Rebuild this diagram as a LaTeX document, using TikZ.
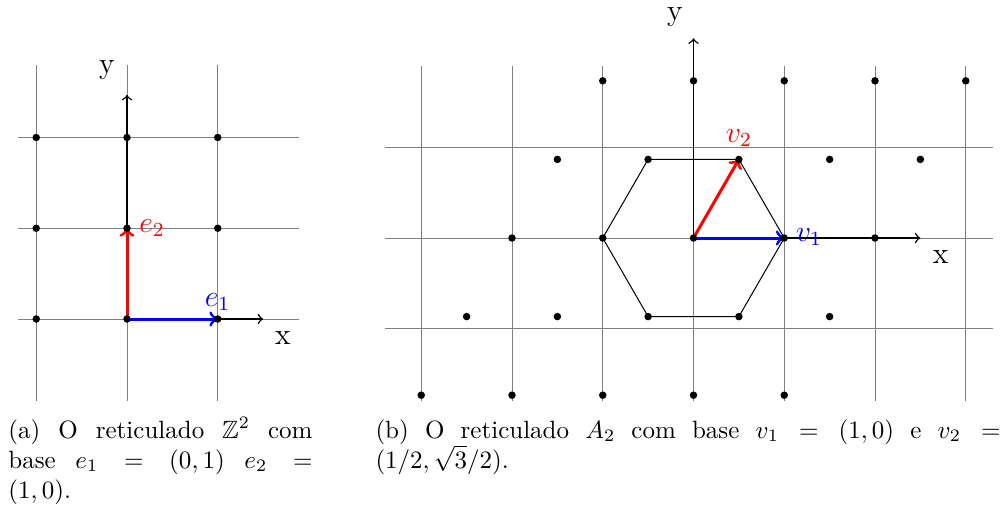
\documentclass[tikz,border=0pt]{standalone}
\usepackage{amssymb}
\begin{document}
\begin{tikzpicture}[x=0.4pt,y=-0.4pt,
  gridline/.style={gray, line width=0.4pt},
  axisarrow/.style={->, black, line width=0.6pt},
  vecarrow/.style={->, line width=1.2pt},
  hexline/.style={black, line width=0.4pt},
  lbl/.style={font=\large, inner sep=0pt},
  captext/.style={anchor=base west, inner sep=0pt, text width=#1, align=justify, font=\normalsize}
]
\fill[white] (0,0) rectangle (1008,508);
\useasboundingbox (0,0) rectangle (1008,508);

% ---------------- left panel: Z^2 ----------------
\begin{scope}[shift={(127,319)}, x=36.3pt, y=36.3pt]
  \foreach \i in {-1,0,1} \draw[gridline] (\i,-0.9) -- (\i,2.8);
  \foreach \j in {0,1,2} \draw[gridline] (-1.2,\j) -- (1.9,\j);
  \coordinate (LO) at (0,0);
  \coordinate (LE1) at (1,0);
  \coordinate (LE2) at (0,1);
  \coordinate (LY) at (0,2.47);
  \coordinate (LX) at (1.5,0);
  \draw[axisarrow] (LO) -- (LY);
  \draw[axisarrow] (LO) -- (LX);
  \draw[vecarrow, blue] (LO) -- (LE1);
  \draw[vecarrow, red] (LO) -- (LE2);
  \foreach \i in {-1,0,1} \foreach \j in {0,1,2} \fill (\i,\j) circle (1.5pt);
\end{scope}
\node[lbl] (ly) at (107,70) {y};
\node[lbl] (lx) at (283,338) {x};
\node[lbl, blue] (le1) at (217.5,302) {$e_1$};
\node[lbl, red] (le2) at (152,228) {$e_2$};

% ---------------- right panel: A_2 ----------------
\begin{scope}[shift={(693.5,238)}, x=36.3pt, y=36.3pt]
  \foreach \i in {-3,...,3} \draw[gridline] (\i,-1.8) -- (\i,1.9);
  \foreach \j in {-1,0,1} \draw[gridline] (-3.4,\j) -- (3.3,\j);
  \coordinate (RO) at (0,0);
  \coordinate (RV1) at (1,0);
  \coordinate (RV2) at (0.5,0.866);
  \coordinate (H1) at (1,0);
  \coordinate (H2) at (0.5,0.866);
  \coordinate (H3) at (-0.5,0.866);
  \coordinate (H4) at (-1,0);
  \coordinate (H5) at (-0.5,-0.866);
  \coordinate (H6) at (0.5,-0.866);
  \draw[hexline] (H1) -- (H2) -- (H3) -- (H4) -- (H5) -- (H6) -- cycle;
  \coordinate (RY) at (0,2.2);
  \coordinate (RX) at (2.5,0);
  \draw[axisarrow] (RO) -- (RY);
  \draw[axisarrow] (RO) -- (RX);
  \draw[vecarrow, blue] (RO) -- (RV1);
  \draw[vecarrow, red] (RO) -- (RV2);
  \foreach \a in {-2,...,2} \foreach \b in {-2,...,2}
    \fill ({\a+0.5*\b},{0.866*\b}) circle (1.5pt);
\end{scope}
\node[lbl] (ry) at (675,17) {y};
\node[lbl] (rx) at (940.5,257) {x};
\node[lbl, blue] (rv1) at (809,237) {$v_1$};
\node[lbl, red] (rv2) at (739,138) {$v_2$};

% ---------------- captions ----------------
\node[captext=121.6pt] (capa) at (8,438)
  {(a) O reticulado $\mathbb{Z}^2$ com\linebreak base $e_1=(0,1)$ $e_2=$\linebreak $(1,0)$.};
\node[captext=250pt] (capb) at (375,438)
  {(b) O reticulado $A_2$ com base $v_1=(1,0)$ e $v_2=$\linebreak $(1/2,\sqrt{3}/2)$.};
\end{tikzpicture}
\end{document}
